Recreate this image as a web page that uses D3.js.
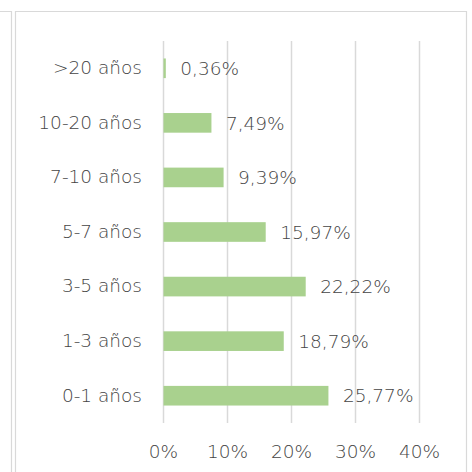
<!DOCTYPE html>
<html><head><meta charset="utf-8">
<script src="https://cdn.jsdelivr.net/npm/d3@7"></script>
<style>html,body{margin:0;padding:0;background:#fff;}svg{display:block;}</style>
</head><body>
<svg id="c" width="472" height="472"></svg>
<script>
const categories = [">20 años", "10-20 años", "7-10 años", "5-7 años", "3-5 años", "1-3 años", "0-1 años"];
const values = [0.36, 7.49, 9.39, 15.97, 22.22, 18.79, 25.77];
const valueLabels = ["0,36%", "7,49%", "9,39%", "15,97%", "22,22%", "18,79%", "25,77%"];
const tickValues = [0, 10, 20, 30, 40];
const tickLabels = ["0%", "10%", "20%", "30%", "40%"];

const svg = d3.select("#c");
const font = "'DejaVu Sans', sans-serif";
const weight = 200;
const textColor = "#444444";
const gridColor = "#d9d9d9";
const barColor = "#a9d18e";

// frames
svg.append("path").attr("d", "M0,11.5H11.5V472").attr("fill", "none").attr("stroke", "#d9d9d9").attr("stroke-width", 1.2);
svg.append("path").attr("d", "M15.5,472V11.5H466.5V472").attr("fill", "none").attr("stroke", "#d9d9d9").attr("stroke-width", 1.2);

const x = d3.scaleLinear().domain([0, 40]).range([163, 419]);
const y = d3.scaleBand().domain(categories).range([41, 423]).paddingInner(0.64).paddingOuter(0.32);

// gridlines
svg.append("g").selectAll("line").data(tickValues).join("line")
  .attr("x1", d => Math.round(x(d)) + 0.5).attr("x2", d => Math.round(x(d)) + 0.5)
  .attr("y1", 41).attr("y2", 423)
  .attr("stroke", gridColor).attr("stroke-width", 1.5);

// bars
svg.append("g").selectAll("rect").data(values).join("rect")
  .attr("x", x(0) + 0.5)
  .attr("y", (d, i) => y(categories[i]))
  .attr("width", d => x(d) - x(0))
  .attr("height", y.bandwidth())
  .attr("fill", barColor);

// value labels
svg.append("g").selectAll("text").data(values).join("text")
  .attr("x", d => x(d) + 15)
  .attr("y", (d, i) => y(categories[i]) + y.bandwidth() / 2)
  .attr("dy", "0.36em")
  .attr("font-family", font).attr("font-weight", weight).attr("font-size", 18.5).attr("fill", textColor)
  .text((d, i) => valueLabels[i]);

// category axis labels
const yAxis = d3.axisLeft(y).tickSize(0).tickPadding(21);
const gy = svg.append("g").attr("transform", `translate(${x(0)},0)`).call(yAxis);
gy.select(".domain").remove();
gy.selectAll("text").attr("font-family", font).attr("font-weight", weight).attr("font-size", 18.5).attr("fill", textColor);

// x axis tick labels
const xAxis = d3.axisBottom(x).tickValues(tickValues).tickFormat((d, i) => tickLabels[i]).tickSize(0).tickPadding(0);
const gx = svg.append("g").attr("transform", `translate(0,${445})`).call(xAxis);
gx.select(".domain").remove();
gx.selectAll("text").attr("font-family", font).attr("font-weight", weight).attr("font-size", 18.5).attr("fill", textColor).attr("dy", "0.71em");
</script>
</body></html>
